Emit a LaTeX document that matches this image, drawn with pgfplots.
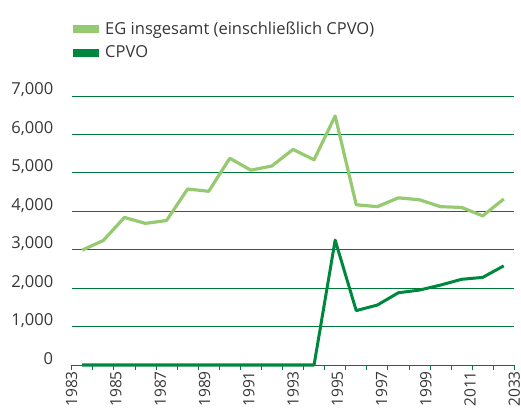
\documentclass[border=0pt]{standalone}
\usepackage{pgfplots}
\pgfplotsset{compat=1.18}
\usepackage{fontspec}
\setmainfont{Open Sans}
\definecolor{lightg}{RGB}{150,202,112}
\definecolor{darkg}{RGB}{0,135,62}
\definecolor{gridg}{RGB}{0,120,55}
\definecolor{txt}{RGB}{55,55,55}
\begin{document}
\begin{tikzpicture}
\begin{axis}[
  at={(0,0)}, anchor=south west,
  scale only axis, width=442.6bp, height=269bp,
  xmin=0, xmax=21, ymin=0, ymax=7000,
  axis x line*=bottom, axis y line*=left,
  x axis line style={gridg, line width=1bp, -},
  y axis line style={draw=none},
  xtick={0,2.1,4.2,6.3,8.4,10.5,12.6,14.7,16.8,18.9,21},
  xticklabels={1983,1985,1987,1989,1991,1993,1995,1997,1999,2011,2033},
  minor xtick={0,1,...,21},
  major x tick style={draw=none},
  minor x tick style={gridg, line width=0.8bp},
  tick align=outside, minor tick length=5bp, major tick length=5bp,
  xticklabel style={rotate=90, anchor=east, font=\fontsize{15.5bp}{18bp}\selectfont, text=txt, inner sep=1bp},
  ytick={0,1000,...,7000},
  major y tick style={draw=none},
  ymajorgrids, grid style={gridg, line width=1bp},
  yticklabel style={anchor=east, font=\fontsize{16.5bp}{18bp}\selectfont, text=txt, yshift=6bp, xshift=-10bp},
  /pgf/number format/.cd, 1000 sep={,}, assume math mode=true,
  /pgfplots/.cd,
  clip=false,
  legend style={at={(-0.006,1.284)}, anchor=north west, draw=none, fill=none,
    font=\fontsize{16.5bp}{19bp}\selectfont, text=txt, row sep=6bp,
    inner sep=0pt, nodes={inner sep=2bp}},
  legend cell align=left,
  legend image code/.code={\draw[line width=8bp, #1] (0bp,0bp) -- (26bp,0bp);},
]
\addplot[lightg, line width=3.2bp, line join=round] coordinates {
(0.5,2990)(1.5,3240)(2.5,3840)(3.5,3685)(4.5,3760)(5.5,4580)(6.5,4520)(7.5,5380)(8.5,5070)(9.5,5180)(10.5,5610)(11.5,5340)(12.5,6480)(13.5,4170)(14.5,4120)(15.5,4350)(16.5,4300)(17.5,4120)(18.5,4100)(19.5,3880)(20.5,4320)};
\addlegendentry{EG insgesamt (einschließlich CPVO)}
\addplot[darkg, line width=3bp, line join=round] coordinates {
(0.5,0)(1.5,0)(2.5,0)(3.5,0)(4.5,0)(5.5,0)(6.5,0)(7.5,0)(8.5,0)(9.5,0)(10.5,0)(11.5,0)(12.5,3250)(13.5,1415)(14.5,1560)(15.5,1880)(16.5,1950)(17.5,2080)(18.5,2230)(19.5,2280)(20.5,2580)};
\addlegendentry{CPVO}
\end{axis}
\pgfresetboundingbox
\path (-71.7bp,-46bp) rectangle (449.3bp,365bp);
\end{tikzpicture}
\end{document}
